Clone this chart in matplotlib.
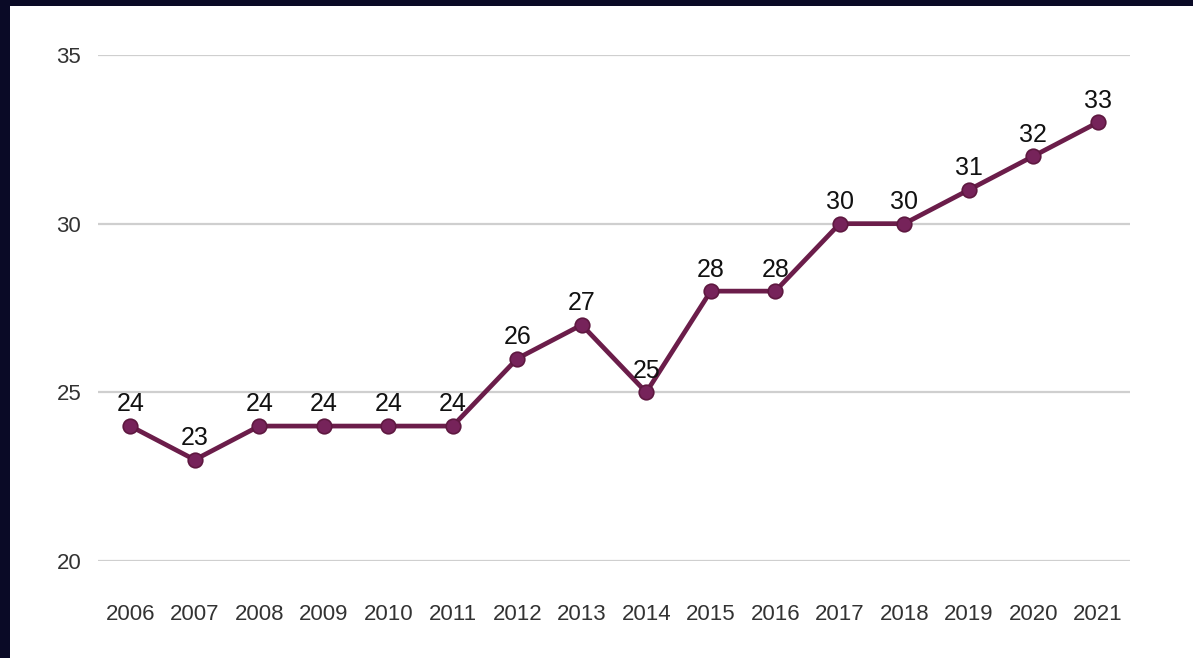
import matplotlib
matplotlib.use("Agg")
import matplotlib.pyplot as plt
from matplotlib.patches import Rectangle

years = ["2006", "2007", "2008", "2009", "2010", "2011", "2012", "2013",
         "2014", "2015", "2016", "2017", "2018", "2019", "2020", "2021"]
values = [24, 23, 24, 24, 24, 24, 26, 27, 25, 28, 28, 30, 30, 31, 32, 33]
y_ticks = [20, 25, 30, 35]

plt.rcParams['font.family'] = ['Liberation Sans', 'DejaVu Sans']

fig = plt.figure(figsize=(11.93, 6.58), dpi=100)
fig.patch.set_facecolor("#0a0a26")
fig.add_artist(Rectangle((10 / 1193, 0), 1 - 10 / 1193, 1 - 6 / 658,
                         transform=fig.transFigure, facecolor="white",
                         edgecolor="none", zorder=0))

ax = fig.add_axes([98 / 1193, 1 - 561 / 658, (1130 - 98) / 1193, (561 - 55) / 658])
ax.set_facecolor("none")
x = list(range(len(years)))
line_color = "#6b1d4a"
ax.plot(x, values, color=line_color, lw=3.4, marker="o", markersize=10.5,
        markerfacecolor="#76235a", markeredgecolor="#5e1840", markeredgewidth=1.2,
        zorder=3, solid_joinstyle="miter")

for xi, v in zip(x, values):
    ax.annotate(str(v), (xi, v), xytext=(0, 10.5), textcoords="offset points",
                ha="center", va="baseline", fontsize=18, color="#111111")

ax.set_xlim(-0.5, len(years) - 0.5)
ax.set_ylim(20, 35)
ax.set_yticks(y_ticks)
ax.set_xticks(x)
ax.set_xticklabels(years)
ax.grid(axis="y", color="#cfcfcf", lw=1.6)
ax.set_axisbelow(True)
for s in ax.spines.values():
    s.set_visible(False)
ax.tick_params(axis="both", length=0, labelsize=16, colors="#333333")
ax.tick_params(axis="x", pad=31)
ax.tick_params(axis="y", pad=12)

fig.savefig("out.png", dpi=100, facecolor=fig.get_facecolor())
